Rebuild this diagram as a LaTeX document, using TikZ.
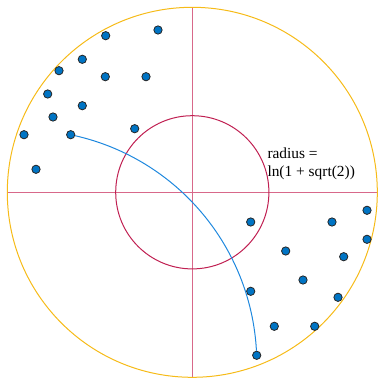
\documentclass[tikz,border=0pt]{standalone}
\usepackage{fontspec}
\setmainfont{Liberation Serif}
\usepackage{tikz}
\usetikzlibrary{arrows.meta,positioning,calc}
\usepackage{xcolor}
\definecolor{rimgold}{RGB}{246,187,24}
\definecolor{axispink}{RGB}{216,104,138}
\definecolor{ringred}{RGB}{192,32,82}
\definecolor{geoblue}{RGB}{30,136,222}
\definecolor{dotblue}{RGB}{0,116,196}

\begin{document}
\begin{tikzpicture}[
    x=1pt, y=-1pt,
    dot/.style={circle, draw=black!85, fill=dotblue, line width=0.8pt,
                minimum size=8.3pt, inner sep=0pt},
    axis/.style={draw=axispink, line width=1.5pt},
    label/.style={anchor=base west, align=left, inner sep=0pt,
                  font=\fontsize{15.4}{17.6}\selectfont}
  ]
  \useasboundingbox (0,0) rectangle (378,379);
  \coordinate (o) at (192.3,192.3);
  \coordinate (west) at (7.3,192.3);
  \coordinate (east) at (377.3,192.3);
  \coordinate (north) at (192.3,7.3);
  \coordinate (south) at (192.3,377.3);

  \draw[axis] (west) -- (east);
  \draw[axis] (north) -- (south);
  \draw[rimgold, line width=1pt] (o) circle[radius=185];
  \draw[ringred, line width=1pt] (o) circle[radius=76.6];

  \foreach \x/\y [count=\i] in {105.7/35.7, 158/30, 82.3/59.3, 59/70.7,
      105.3/76.7, 146/76.7, 47.7/94, 82.3/105.7, 53/117, 134.7/128.7,
      24/134.7, 70.7/134.7, 36/169.3}
    \node[dot] (a\i) at (\x,\y) {};
  \foreach \x/\y [count=\i] in {250.7/222, 332/222, 367/210.3, 367/239.3,
      285.7/251, 343.7/256.7, 303/280, 250.7/291.3, 338/297.3,
      274.3/326.3, 314.7/326.3, 256.7/355.3}
    \node[dot] (b\i) at (\x,\y) {};

  \draw[geoblue, line width=1pt] (a12) to[bend left=37, looseness=0.95] (b12);

  \node[label] (radius) at (267.3,176.3) {radius =\\ln(1 + sqrt(2))};
\end{tikzpicture}
\end{document}
